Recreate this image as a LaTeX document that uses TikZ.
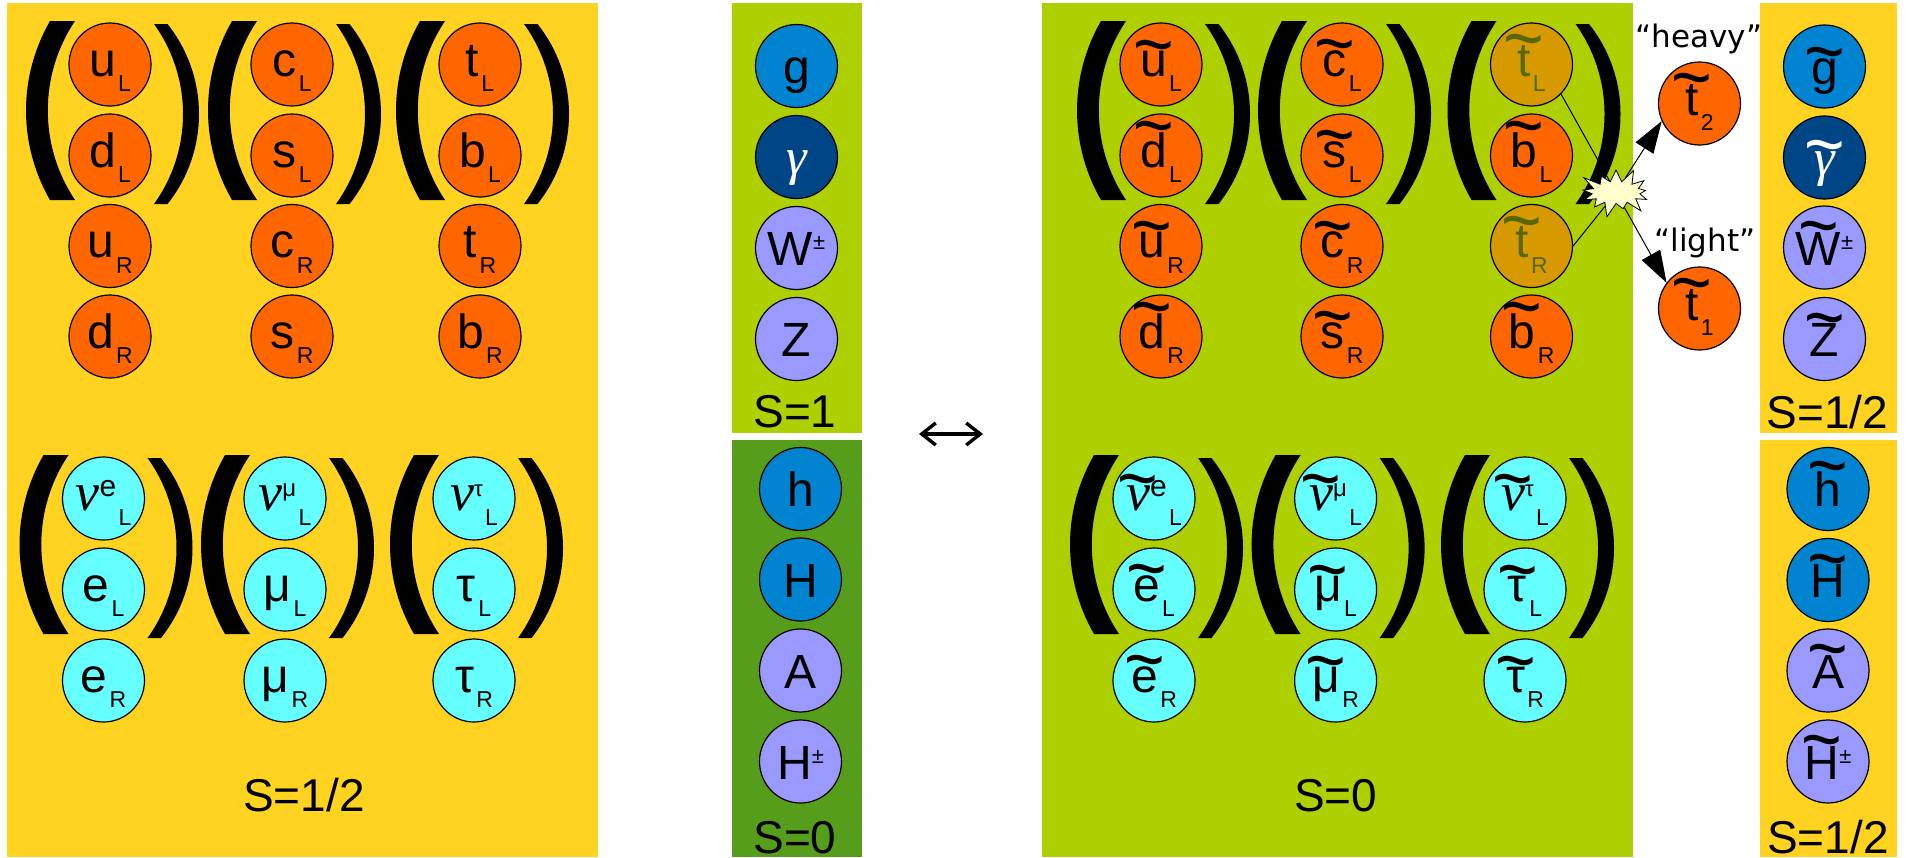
\documentclass[tikz,border=0pt]{standalone}
\usepackage{fontspec}
\usepackage{graphicx}
\setmainfont{Liberation Sans}
\newfontfamily\serifgr{Liberation Serif}
\newfontfamily\djv{DejaVu Sans}
\usetikzlibrary{shapes.geometric,shapes.symbols,arrows.meta}
\definecolor{cyel}{HTML}{FFD320}
\definecolor{cgrn}{HTML}{AECF00}
\definecolor{cdgrn}{HTML}{579D1C}
\definecolor{corg}{HTML}{FF6600}
\definecolor{ccyan}{HTML}{66FFFF}
\definecolor{cblue}{HTML}{0084D1}
\definecolor{cdblue}{HTML}{004586}
\definecolor{clav}{HTML}{9999FF}
\definecolor{cstop}{HTML}{D69A00}
\definecolor{cstoptx}{HTML}{576800}
\definecolor{cboom}{HTML}{FFFFCC}
\newbox\tldA
\newbox\tldB
\newdimen\tldD
\newcommand\tld[1]{\leavevmode\setbox\tldA=\hbox{#1}\setbox\tldB=\hbox{\normalfont\scalebox{1.45}[1.6]{\char"007E}}\tldD=\dimexpr\ht\tldA+0.22em-\ht\tldB\relax\hbox{\rlap{\hbox to\wd\tldA{\hss\raise\tldD\box\tldB\hss}}\box\tldA}}
\newcommand\lsub[1]{\kern1.2pt\raisebox{-7.8pt}{\fontsize{11.5}{11.5}\selectfont #1}}
\newcommand\lsupp[2]{\raisebox{7pt}{\fontsize{#1}{#1}\selectfont #2}}
\newcommand\pmsup{\raisebox{8pt}{\fontsize{11}{11}\selectfont ±}}
\newcommand\nuu{{\fontsize{27}{27}\selectfont\serifgr\itshape ν}}
\newcommand\gam{{\fontsize{26}{26}\selectfont\serifgr\itshape γ}}
\tikzset{
  ptcl/.style={ellipse, draw=black, line width=0.6pt, minimum width=41pt, minimum height=41.5pt, inner xsep=-3pt, inner ysep=0pt, font=\fontsize{24}{24}\selectfont},
  ferm/.style={ptcl, text height=16pt, text depth=4.5pt},
  boso/.style={ptcl, text height=18.5pt, text depth=1pt},
  qk/.style={ferm, fill=corg},
  lpt/.style={ferm, fill=ccyan},
  stp/.style={ferm, fill=cstop, text=cstoptx},
  blu/.style={boso, fill=cblue},
  dbl/.style={boso, fill=cdblue, text=white},
  lav/.style={boso, fill=clav},
  slab/.style={font=\fontsize{23}{23}\selectfont, anchor=base, inner sep=0pt},
  qlab/.style={font=\djv\fontsize{15.5}{15.5}\selectfont, anchor=base, inner sep=0pt},
  lpar/.pic={\fill (-0.5,-89.5) -- (24.5,-89.5) .. controls (6.7,-63) and (-2.7,-31.9) .. (-2.7,0) .. controls (-2.7,31.9) and (6.7,63) .. (24.5,89.5) -- (-0.5,89.5) .. controls (-16.2,62.3) and (-24.5,31.4) .. (-24.5,0) .. controls (-24.5,-31.4) and (-16.2,-62.3) .. (-0.5,-89.5) -- cycle;},
  rpar/.pic={\fill (-22.5,-90) -- (-9,-90) .. controls (11.4,-64.4) and (22.5,-32.7) .. (22.5,0) .. controls (22.5,32.7) and (11.4,64.4) .. (-9,90) -- (-22.5,90) .. controls (-3.6,63.8) and (6.5,32.3) .. (6.5,0) .. controls (6.5,-32.3) and (-3.6,-63.8) .. (-22.5,-90) -- cycle;},
  thin/.style={line width=0.5pt},
  mixarrow/.style={thin, -{Triangle[length=16pt,width=10.5pt]}}
}
\begin{document}
\begin{tikzpicture}[x=0.5pt,y=-0.5pt]
\useasboundingbox (0,0) rectangle (1912,857);
% background panels
\fill[cyel] (7,3) rectangle (598,857);
\fill[cgrn] (732,3) rectangle (862,433);
\fill[cdgrn] (732,440) rectangle (862,857);
\fill[cgrn] (1042,3) rectangle (1633,857);
\fill[cyel] (1760,3) rectangle (1897,433);
\fill[cyel] (1760,440) rectangle (1897,857);
% parentheses
\foreach \cx in {110,292,480,1161,1342,1531.5} {
  \pic at (\cx-59.5,110.5) {lpar};
  \pic at (\cx+66.5,114) {rpar};
}
\foreach \cx in {103.5,285,474,1154,1335.6,1525} {
  \pic at (\cx-59.5,544.5) {lpar};
  \pic at (\cx+66.5,548) {rpar};
}
% SM quarks
\node[qk] (uL) at (110,64.5) {u\lsub{L}};
\node[qk] (dL) at (110,155.5) {d\lsub{L}};
\node[qk] (uR) at (110,246) {u\lsub{R}};
\node[qk] (dR) at (110,336.5) {d\lsub{R}};
\node[qk] (cL) at (292,64.5) {c\lsub{L}};
\node[qk] (sL) at (292,155.5) {s\lsub{L}};
\node[qk] (cR) at (292,246) {c\lsub{R}};
\node[qk] (sR) at (292,336.5) {s\lsub{R}};
\node[qk] (tL) at (480,64.5) {t\lsub{L}};
\node[qk] (bL) at (480,155.5) {b\lsub{L}};
\node[qk] (tR) at (480,246) {t\lsub{R}};
\node[qk] (bR) at (480,336.5) {b\lsub{R}};
% SM leptons
\node[lpt] (nue) at (103.5,498.5) {\nuu\lsupp{15}{e}\lsub{L}};
\node[lpt] (eL) at (103.5,589.5) {e\lsub{L}};
\node[lpt] (eR) at (103.5,680.5) {e\lsub{R}};
\node[lpt] (num) at (285,498.5) {\nuu\lsupp{12}{μ}\lsub{L}};
\node[lpt] (muL) at (285,589.5) {μ\lsub{L}};
\node[lpt] (muR) at (285,680.5) {μ\lsub{R}};
\node[lpt] (nut) at (474,498.5) {\nuu\lsupp{11}{τ}\lsub{L}};
\node[lpt] (taL) at (474,589.5) {τ\lsub{L}};
\node[lpt] (taR) at (474,680.5) {τ\lsub{R}};
\node[slab] (s12a) at (304,811.5) {S=1/2};
% SM bosons
\node[blu] (g) at (796.5,66) {g};
\node[dbl] (ga) at (796.5,157) {\gam};
\node[lav] (W) at (796.5,248) {W\pmsup};
\node[lav] (Z) at (796.5,339) {Z};
\node[slab] (s1) at (795,427.5) {S=1};
\node[blu] (h) at (800.5,489) {h};
\node[blu] (H) at (800.5,579.5) {H};
\node[lav] (A) at (800.5,670.5) {A};
\node[lav] (Hpm) at (800.5,761.5) {H\pmsup};
\node[slab] (s0a) at (795,853) {S=0};
% correspondence arrow
\coordinate (arL) at (919,434);
\coordinate (arR) at (983,434);
\draw[line width=1.7pt, {Straight Barb[length=7pt,width=11pt]}-{Straight Barb[length=7pt,width=11pt]}] (arL) -- (arR);
% squarks
\node[qk] (suL) at (1161,64.5) {\tld{u}\lsub{L}};
\node[qk] (sdL) at (1161,155.5) {\tld{d}\lsub{L}};
\node[qk] (suR) at (1161,246) {\tld{u}\lsub{R}};
\node[qk] (sdR) at (1161,336.5) {\tld{d}\lsub{R}};
\node[qk] (scL) at (1342,64.5) {\tld{c}\lsub{L}};
\node[qk] (ssL) at (1342,155.5) {\tld{s}\lsub{L}};
\node[qk] (scR) at (1342,246) {\tld{c}\lsub{R}};
\node[qk] (ssR) at (1342,336.5) {\tld{s}\lsub{R}};
\node[stp] (stL) at (1531.5,64.5) {\tld{t}\lsub{L}};
\node[qk] (sbL) at (1531.5,155.5) {\tld{b}\lsub{L}};
\node[stp] (stR) at (1531.5,246) {\tld{t}\lsub{R}};
\node[qk] (sbR) at (1531.5,336.5) {\tld{b}\lsub{R}};
% sleptons
\node[lpt] (snue) at (1154,498.5) {\tld{\nuu}\lsupp{15}{e}\lsub{L}};
\node[lpt] (seL) at (1154,589.5) {\tld{e}\lsub{L}};
\node[lpt] (seR) at (1154,680.5) {\tld{e}\lsub{R}};
\node[lpt] (snum) at (1335.6,498.5) {\tld{\nuu}\lsupp{12}{μ}\lsub{L}};
\node[lpt] (smuL) at (1335.6,589.5) {\tld{μ}\lsub{L}};
\node[lpt] (smuR) at (1335.6,680.5) {\tld{μ}\lsub{R}};
\node[lpt] (snut) at (1525,498.5) {\tld{\nuu}\lsupp{11}{τ}\lsub{L}};
\node[lpt] (staL) at (1525,589.5) {\tld{τ}\lsub{L}};
\node[lpt] (staR) at (1525,680.5) {\tld{τ}\lsub{R}};
\node[slab] (s0b) at (1335.7,811.5) {S=0};
% stop mixing
\node[qk] (st2) at (1699.5,103.5) {\tld{t}\lsub{2}};
\node[qk] (st1) at (1699.5,308.5) {\tld{t}\lsub{1}};
\node[qlab] (heavy) at (1699,47.3) {“heavy”};
\node[qlab] (light) at (1705,251.7) {“light”};
\node[starburst, starburst points=13, starburst point height=8pt, fill=cboom, draw=black, line width=0.4pt, minimum width=40pt, minimum height=27pt, inner sep=0pt] (boom) at (1616,192.5) {};
\draw[thin] (stL.-45) -- (boom);
\draw[thin] (stR.east) -- (boom);
\draw[mixarrow] (boom) -- (st2.205);
\draw[mixarrow] (boom) -- (st1.142);
% superpartners of bosons
\node[blu] (sg) at (1824.5,66.5) {\tld{g}};
\node[dbl] (sga) at (1824.5,157.5) {\tld{\gam}};
\node[lav] (sW) at (1824.5,247.5) {\tld{W}\pmsup};
\node[lav] (sZ) at (1824.5,339) {\tld{Z}};
\node[slab] (s12b) at (1827.5,428) {S=1/2};
\node[blu] (sh) at (1828,489) {\tld{h}};
\node[blu] (sH) at (1828,580) {\tld{H}};
\node[lav] (sA) at (1828,670.5) {\tld{A}};
\node[lav] (sHpm) at (1828,761.5) {\tld{H}\pmsup};
\node[slab] (s12c) at (1828,853) {S=1/2};
\end{tikzpicture}
\end{document}
